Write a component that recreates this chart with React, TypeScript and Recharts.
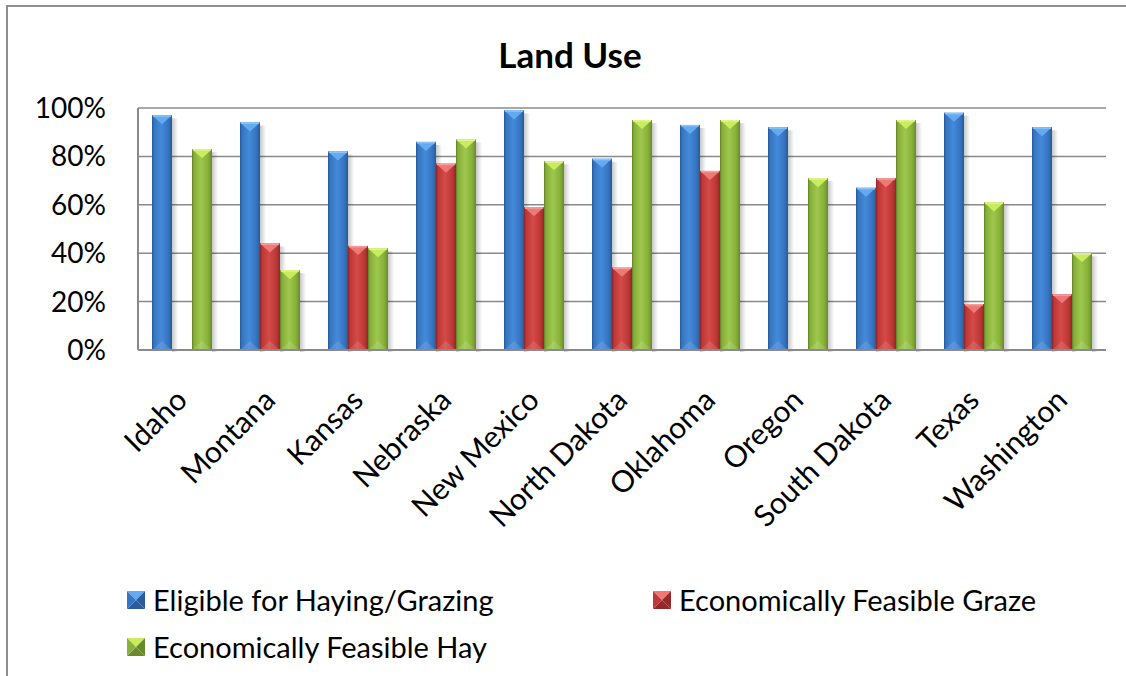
import React from 'react';
import { BarChart, Bar, XAxis, YAxis, CartesianGrid, Legend } from 'recharts';

const states = [
  'Idaho', 'Montana', 'Kansas', 'Nebraska', 'New Mexico', 'North Dakota',
  'Oklahoma', 'Oregon', 'South Dakota', 'Texas', 'Washington',
];
const eligible = [97, 94, 82, 86, 99, 79, 93, 92, 67, 98, 92];
const graze = [0, 44, 43, 77, 59, 34, 74, 0, 71, 19, 23];
const hay = [83, 33, 42, 87, 78, 95, 95, 71, 95, 61, 40];
const yTicks = [0, 20, 40, 60, 80, 100];

const seriesNames = {
  eligible: 'Eligible for Haying/Grazing',
  graze: 'Economically Feasible Graze',
  hay: 'Economically Feasible Hay',
};

const FONT = 'Lato, "Open Sans", sans-serif';

// bevel palettes: edge, body, centre highlight, top facet, top rim
const TONES: Record<string, { edge: string; body: string; mid: string; cap: string; rim: string }> = {
  blue: { edge: '#2a5d9e', body: '#3675c2', mid: '#448ad8', cap: '#63aaf0', rim: '#8cc4f7' },
  red: { edge: '#952828', body: '#bd3837', mid: '#d44a48', cap: '#ee7876', rim: '#f59e9c' },
  green: { edge: '#6a8a2c', body: '#88b03b', mid: '#9dc84c', cap: '#c8ec5e', rim: '#e2f58a' },
};

const TONE_OF: Record<string, string> = { eligible: 'blue', graze: 'red', hay: 'green' };

const rows = states.map((s, i) => ({
  state: s,
  eligible: eligible[i],
  graze: graze[i],
  hay: hay[i],
}));

const GradientDefs = () => (
  <svg width={0} height={0} style={{ position: 'absolute' }}>
    <defs>
      {Object.entries(TONES).map(([k, t]) => (
        <linearGradient key={k} id={`body-${k}`} x1="0" y1="0" x2="1" y2="0">
          <stop offset="0%" stopColor={t.edge} />
          <stop offset="12%" stopColor={t.body} />
          <stop offset="45%" stopColor={t.mid} />
          <stop offset="80%" stopColor={t.body} />
          <stop offset="100%" stopColor={t.edge} />
        </linearGradient>
      ))}
      <linearGradient id="bar-shade" x1="0" y1="0" x2="1" y2="0">
        <stop offset="0%" stopColor="#000" stopOpacity={0.22} />
        <stop offset="100%" stopColor="#000" stopOpacity={0} />
      </linearGradient>
    </defs>
  </svg>
);

const BevelBar = (props: any) => {
  const { x, y, width, height, tone } = props;
  if (!height || height <= 0) return null;
  const t = TONES[tone];
  const cap = Math.min(width * 0.45, height / 2);
  return (
    <g>
      <rect x={x + width} y={y + 3} width={6} height={height - 1} fill="url(#bar-shade)" />
      <rect x={x} y={y} width={width} height={height} fill={`url(#body-${tone})`} />
      <polygon
        points={`${x},${y + height} ${x + width},${y + height} ${x + width / 2},${y + height - cap}`}
        fill="#ffffff"
        opacity={0.12}
      />
      <polygon points={`${x},${y} ${x + width},${y} ${x + width / 2},${y + cap}`} fill={t.cap} />
      <rect x={x} y={y} width={width} height={1.5} fill={t.rim} />
      <rect x={x} y={y} width={1} height={height} fill={t.edge} opacity={0.8} />
      <rect x={x + width - 1} y={y} width={1} height={height} fill={t.edge} opacity={0.8} />
    </g>
  );
};

const StateTick = (props: any) => {
  const { x, y, payload } = props;
  return (
    <g transform={`translate(${x + 7},${y + 44})`}>
      <text transform="rotate(-45)" textAnchor="end" fontFamily={FONT} fontSize={30} fill="#000">
        {payload.value}
      </text>
    </g>
  );
};

const LegendIcon = ({ tone }: { tone: string }) => {
  const t = TONES[tone];
  return (
    <svg width={18} height={18} style={{ display: 'block' }}>
      <polygon points="0,0 18,0 9,9" fill={t.cap} />
      <polygon points="18,0 18,18 9,9" fill={t.edge} />
      <polygon points="0,18 18,18 9,9" fill={t.edge} />
      <polygon points="0,0 0,18 9,9" fill={t.body} />
    </svg>
  );
};

const legendSlots: Record<string, { left: number; top: number }> = {
  eligible: { left: 127, top: 583 },
  graze: { left: 653, top: 583 },
  hay: { left: 127, top: 630 },
};

const LegendBox = ({ payload }: any) => (
  <div style={{ position: 'relative', width: 1126, height: 676 }}>
    {(payload || []).map((entry: any) => {
      const slot = legendSlots[entry.dataKey];
      return (
        <div
          key={entry.dataKey}
          style={{
            position: 'absolute',
            left: slot.left,
            top: slot.top,
            display: 'flex',
            alignItems: 'center',
            fontFamily: FONT,
            fontSize: 29,
            color: '#000',
            whiteSpace: 'nowrap',
            lineHeight: '34px',
          }}
        >
          <LegendIcon tone={TONE_OF[entry.dataKey]} />
          <span style={{ marginLeft: 8 }}>{entry.value}</span>
        </div>
      );
    })}
  </div>
);

export default function App() {
  return (
    <div
      style={{
        position: 'absolute',
        left: 0,
        top: 0,
        width: 1126,
        height: 676,
        overflow: 'hidden',
        background: '#fff',
      }}
    >
      <GradientDefs />
      <div
        style={{
          position: 'absolute',
          left: 6,
          top: 5,
          width: 1200,
          height: 800,
          borderTop: '2px solid #8e8e8e',
          borderLeft: '2px solid #8e8e8e',
        }}
      />
      <div
        style={{
          position: 'absolute',
          left: 0,
          width: 1140,
          top: 32,
          textAlign: 'center',
          fontFamily: FONT,
          fontWeight: 700,
          fontSize: 35,
          lineHeight: '44px',
          color: '#000',
        }}
      >
        Land Use
      </div>
      <div style={{ position: 'absolute', left: 0, top: 0 }}>
        <BarChart
          width={1126}
          height={676}
          data={rows}
          margin={{ top: 108, right: 20, bottom: 0, left: 0 }}
          barCategoryGap={14}
          barGap={0}
        >
          <CartesianGrid vertical={false} stroke="#8a8a8a" strokeWidth={1.5} />
          <XAxis
            dataKey="state"
            height={326}
            interval={0}
            tickLine={false}
            axisLine={{ stroke: '#8a8a8a', strokeWidth: 2 }}
            tick={<StateTick />}
          />
          <YAxis
            width={138}
            domain={[0, 100]}
            ticks={yTicks}
            tickFormatter={(v) => `${v}%`}
            tickLine={false}
            tickSize={0}
            tickMargin={32}
            axisLine={{ stroke: '#8a8a8a', strokeWidth: 2 }}
            tick={{ fontFamily: FONT, fontSize: 28, fill: '#000' }}
          />
          <Legend
            layout="horizontal"
            verticalAlign="middle"
            align="center"
            content={<LegendBox />}
            wrapperStyle={{ position: 'absolute', left: 0, top: 0, width: 1126, height: 676, pointerEvents: 'none' }}
          />
          <Bar dataKey="eligible" name={seriesNames.eligible} fill="#3675c2" shape={<BevelBar tone="blue" />} isAnimationActive={false} />
          <Bar dataKey="graze" name={seriesNames.graze} fill="#bd3837" shape={<BevelBar tone="red" />} isAnimationActive={false} />
          <Bar dataKey="hay" name={seriesNames.hay} fill="#88b03b" shape={<BevelBar tone="green" />} isAnimationActive={false} />
        </BarChart>
      </div>
    </div>
  );
}
